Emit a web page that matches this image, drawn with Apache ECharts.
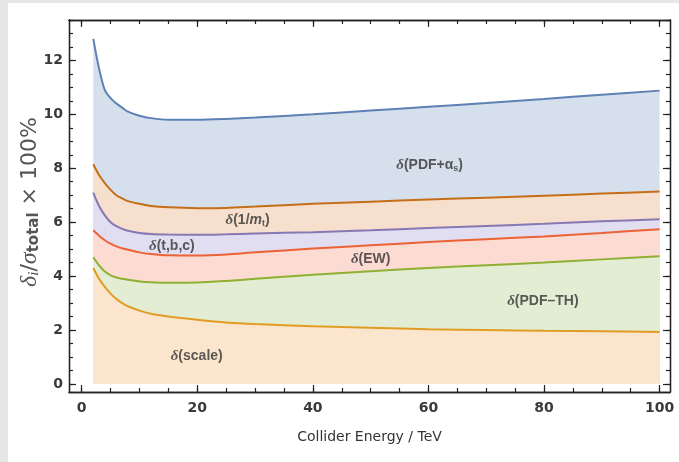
<!DOCTYPE html>
<html>
<head>
<meta charset="utf-8">
<script src="https://cdn.jsdelivr.net/npm/echarts@6/dist/echarts.min.js"></script>
<style>
  html, body { margin: 0; padding: 0; background: #ffffff; }
  #chart { width: 679px; height: 462px; }
</style>
</head>
<body>
<div id="chart"></div>
<script>
// Collider energy (TeV) and the cumulative uncertainty envelopes (percent of total cross section)
const energy   = [2, 3, 4, 5, 6, 7, 8, 10, 12, 15, 20, 25, 30, 40, 50, 60, 70, 80, 90, 100];
const pdfAlphaS = [12.8, 11.7, 10.9, 10.6, 10.4, 10.25, 10.1, 9.95, 9.86, 9.8, 9.8, 9.83, 9.88, 10.0, 10.14, 10.28, 10.42, 10.57, 10.73, 10.88];
const invMt    = [8.15, 7.75, 7.45, 7.2, 7.0, 6.88, 6.78, 6.68, 6.6, 6.55, 6.52, 6.53, 6.58, 6.68, 6.76, 6.84, 6.91, 6.98, 7.06, 7.14];
const tbc      = [7.1, 6.6, 6.25, 6.0, 5.85, 5.75, 5.68, 5.6, 5.56, 5.54, 5.53, 5.55, 5.58, 5.63, 5.7, 5.78, 5.86, 5.94, 6.03, 6.11];
const ew       = [5.7, 5.5, 5.33, 5.2, 5.1, 5.03, 4.98, 4.88, 4.82, 4.77, 4.76, 4.8, 4.88, 5.02, 5.14, 5.26, 5.37, 5.47, 5.6, 5.74];
const pdfTh    = [4.7, 4.4, 4.17, 4.03, 3.95, 3.9, 3.86, 3.8, 3.77, 3.75, 3.76, 3.82, 3.9, 4.05, 4.18, 4.3, 4.4, 4.5, 4.62, 4.74];
const scale    = [4.3, 3.9, 3.6, 3.35, 3.15, 3.0, 2.88, 2.72, 2.6, 2.5, 2.38, 2.28, 2.22, 2.14, 2.08, 2.03, 2.0, 1.97, 1.95, 1.93];

// Axis ticks
const xMajorTicks = [0, 20, 40, 60, 80, 100];
const yMajorTicks = [0, 2, 4, 6, 8, 10, 12];
const xMinorTicks = [];
for (let v = 0; v <= 100; v += 5) xMinorTicks.push(v);
const yMinorTicks = [];
for (let v = 0; v <= 13.5; v += 0.5) yMinorTicks.push(v);

// Band labels, anchored in data coordinates
const bandLabels = [
  { x: 60.2, y: 8.13, text: '{d|δ}{t|(PDF+α}{s|s}{t|)}' },
  { x: 28.7, y: 6.08, text: '{d|δ}{t|(1/}{i|m}{s|t}{t|)}' },
  { x: 15.6, y: 5.12, text: '{d|δ}{t|(t,b,c)}' },
  { x: 50.0, y: 4.64, text: '{d|δ}{t|(EW)}' },
  { x: 79.8, y: 3.08, text: '{d|δ}{t|(PDF–TH)}' },
  { x: 19.9, y: 1.04, text: '{d|δ}{t|(scale)}' }
];

const bands = [
  { name: 'PDF+αs', data: pdfAlphaS, line: '#5E81B5', fill: '#d6e0ed' },
  { name: '1/mt',   data: invMt,     line: '#C56E1A', fill: '#f6dfcc' },
  { name: 't,b,c',  data: tbc,       line: '#8778B3', fill: '#e2def2' },
  { name: 'EW',     data: ew,        line: '#EB6235', fill: '#fcdbd3' },
  { name: 'PDF-TH', data: pdfTh,     line: '#8FB032', fill: '#e2edd4' },
  { name: 'scale',  data: scale,     line: '#E19C24', fill: '#fbe6cd' }
];

const chart = echarts.init(document.getElementById('chart'), null, { renderer: 'canvas' });

const frameLine = { show: true, onZero: false, lineStyle: { color: '#222', width: 1.3 } };
const tickFont = { fontFamily: 'DejaVu Sans', fontSize: 14, fontWeight: 'bold', color: '#3a3a3a' };
const X_MIN = -2.2, X_MAX = 101.8, Y_MIN = -0.3, Y_MAX = 13.5;

function xAx(pos, ticks, len, labels) {
  return {
    type: 'value', position: pos, min: X_MIN, max: X_MAX,
    axisLine: frameLine,
    axisTick: { show: true, inside: true, length: len, customValues: ticks, lineStyle: { color: '#222', width: 1.2 } },
    axisLabel: labels ? Object.assign({ show: true, margin: 9, customValues: xMajorTicks }, tickFont) : { show: false },
    splitLine: { show: false }
  };
}
function yAx(pos, ticks, len, labels) {
  return {
    type: 'value', position: pos, min: Y_MIN, max: Y_MAX,
    axisLine: frameLine,
    axisTick: { show: true, inside: true, length: len, customValues: ticks, lineStyle: { color: '#222', width: 1.2 } },
    axisLabel: labels ? Object.assign({ show: true, margin: 6, customValues: yMajorTicks }, tickFont) : { show: false },
    splitLine: { show: false }
  };
}

const series = bands.map(b => ({
  type: 'line',
  name: b.name,
  xAxisIndex: 0, yAxisIndex: 0,
  data: energy.map((e, i) => [e, b.data[i]]),
  showSymbol: false,
  smooth: 0.3,
  lineStyle: { color: b.line, width: 2 },
  areaStyle: { color: b.fill, opacity: 1, origin: 0 },
  silent: true,
  animation: false
}));

const richText = {
  d: { fontFamily: 'Liberation Serif', fontStyle: 'italic', fontSize: 15, color: '#333', fontWeight: 'bold' },
  t: { fontFamily: 'Liberation Sans', fontSize: 14, color: '#333', fontWeight: 'bold' },
  i: { fontFamily: 'Liberation Sans', fontStyle: 'italic', fontSize: 14, color: '#333', fontWeight: 'bold' },
  s: { fontFamily: 'Liberation Sans', fontSize: 9, color: '#333', fontWeight: 'bold', verticalAlign: 'bottom', padding: [7, 0, 0, 0] }
};

series.push({
  type: 'scatter',
  xAxisIndex: 0, yAxisIndex: 0,
  symbolSize: 0,
  silent: true,
  animation: false,
  z: 10,
  data: bandLabels.map(l => ({ value: [l.x, l.y], labelText: l.text })),
  label: {
    show: true, position: 'inside',
    formatter: p => p.data.labelText,
    rich: richText
  }
});

chart.setOption({
  animation: false,
  backgroundColor: '#ffffff',
  grid: { left: 69, top: 20, right: 9, bottom: 70 },
  xAxis: [
    Object.assign(xAx('bottom', xMajorTicks, 7, true), {
      name: 'Collider Energy / TeV', nameLocation: 'middle', nameGap: 38,
      nameTextStyle: { fontFamily: 'DejaVu Sans', fontSize: 14, color: '#333' }
    }),
    xAx('bottom', xMinorTicks, 4, false),
    xAx('top', xMajorTicks, 7, false),
    xAx('top', xMinorTicks, 4, false)
  ],
  yAxis: [
    yAx('left', yMajorTicks, 7, true),
    yAx('left', yMinorTicks, 4, false),
    yAx('right', yMajorTicks, 7, false),
    yAx('right', yMinorTicks, 4, false)
  ],
  graphic: [
    { type: 'rect', shape: { x: 0, y: 0, width: 8, height: 462 }, style: { fill: '#e6e6e6' }, silent: true },
    { type: 'rect', shape: { x: 0, y: 0, width: 679, height: 3 }, style: { fill: '#e6e6e6' }, silent: true },
    {
      type: 'text', x: 30, y: 202, rotation: Math.PI / 2,
      style: {
        text: '{g|δ}{gs|i}{n|/}{g|σ}{b|total}{n| × 100%}',
        align: 'center', verticalAlign: 'middle',
        rich: {
          g: { fontFamily: 'Liberation Serif', fontStyle: 'italic', fontSize: 24, fill: '#555' },
          gs: { fontFamily: 'Liberation Serif', fontStyle: 'italic', fontSize: 15, fill: '#555', verticalAlign: 'bottom', padding: [9, 0, 0, 0] },
          n: { fontFamily: 'DejaVu Sans', fontSize: 22, fill: '#555' },
          b: { fontFamily: 'DejaVu Sans', fontSize: 15, fontWeight: 'bold', fill: '#555', verticalAlign: 'bottom', padding: [9, 0, 0, 0] }
        }
      },
      silent: true
    }
  ],
  series: series
});
</script>
</body>
</html>
